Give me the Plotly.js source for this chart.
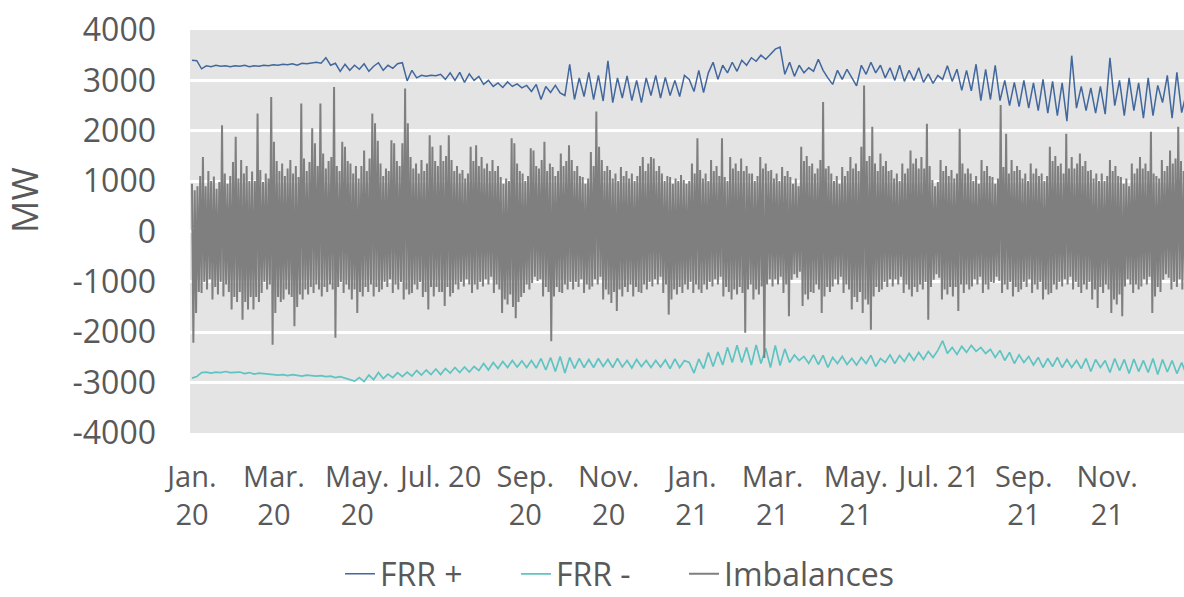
<!DOCTYPE html>
<html>
<head>
<meta charset="utf-8">
<script src="https://cdn.plot.ly/plotly-3.0.1.min.js"></script>
<style>
  html, body { margin: 0; padding: 0; background: #ffffff; }
  #chart { width: 1184px; height: 597px; }
</style>
</head>
<body>
<div id="chart"></div>
<script>
// ---- Data ----
// FRR+ and FRR- : one value every 3.5 days starting 1 Jan 2020 (MW)
const frrUp = [
  3400, 3390, 3230, 3290, 3270, 3300, 3280, 3290, 3270,
  3290, 3280, 3300, 3270, 3290, 3280, 3300, 3290,
  3310, 3300, 3320, 3310, 3330, 3300, 3340, 3330, 3350,
  3360, 3340, 3450, 3300, 3340, 3180, 3320, 3200, 3300,
  3220, 3330, 3180, 3280, 3350, 3200, 3300, 3240, 3330,
  3350, 2990, 3200, 3050, 3100, 3080, 3100, 3090,
  3120, 3020, 3150, 3000, 3160, 2960, 3130, 3000, 3080,
  2920, 3000, 2880, 2950, 2860, 2970, 2880, 2930, 2850,
  2900, 2780, 2920, 2620, 2880, 2760, 2900, 2750,
  2700, 3320, 2620, 3050, 2680, 3160, 2620, 3100, 2590,
  3390, 2560, 3050, 2650, 3090, 2600, 3000, 2560, 3050,
  2700, 3100, 2650, 3060, 2700, 3000, 2680, 3100, 3020,
  2780, 3200, 2760, 3150, 3360, 3020, 3300, 3150, 3360,
  3180, 3400, 3300, 3450, 3380, 3500, 3420, 3520,
  3620, 3660, 3120, 3360, 3080, 3300, 3150, 3250, 3180,
  3420, 3200, 3050, 2920, 3200, 3020, 3220, 3050,
  2890, 3300, 3120, 3360, 3150, 3300, 3050, 3250, 3000,
  3300, 2980, 3200, 3000, 3250, 2960, 3130, 2940, 3100,
  3020, 3290, 2980, 3220, 2800, 3200, 2790, 3320, 2600,
  3220, 2620, 3300, 2600, 3000, 2500, 2960, 2480,
  3000, 2450, 2950, 2400, 3020, 2350, 2980, 2300, 2950,
  2190, 3490, 2450, 2880, 2400, 2850, 2350, 2880, 2330,
  3450, 2500, 3000, 2300, 3050, 2400, 2950, 2250,
  3050, 2300, 2900, 2560, 3100, 2250, 3160, 2360, 2760
];
const frrDown = [
  -2910, -2880, -2800, -2790, -2810, -2790, -2800, -2780, -2800,
  -2800, -2790, -2820, -2800, -2830, -2810, -2820, -2830,
  -2830, -2850, -2840, -2860, -2840, -2850, -2870, -2850, -2860,
  -2870, -2860, -2880, -2870, -2900, -2880, -2910, -2940, -2970,
  -2900, -2980, -2850, -2940, -2800, -2920, -2830, -2900, -2800,
  -2880, -2790, -2870, -2760, -2850, -2750, -2840, -2730,
  -2840, -2720, -2810, -2700, -2800, -2690, -2790, -2680, -2760,
  -2620, -2750, -2600, -2720, -2580, -2700, -2560, -2690, -2570,
  -2700, -2560, -2710, -2520, -2750, -2500, -2780, -2480,
  -2810, -2500, -2720, -2520, -2700, -2540, -2700, -2520, -2680,
  -2540, -2700, -2520, -2690, -2560, -2710, -2540, -2680, -2560,
  -2700, -2560, -2690, -2550, -2720, -2530, -2700, -2560, -2600,
  -2810, -2530, -2720, -2400, -2680, -2390, -2650, -2300, -2600,
  -2260, -2600, -2300, -2650, -2250, -2620, -2320, -2700,
  -2260, -2660, -2330, -2600, -2450, -2560, -2480, -2620, -2450,
  -2640, -2460, -2700, -2500, -2620, -2480, -2640, -2520,
  -2650, -2500, -2620, -2460, -2680, -2520, -2600, -2450, -2620,
  -2460, -2580, -2420, -2560, -2400, -2540, -2380, -2500, -2360,
  -2170, -2420, -2300, -2440, -2280, -2400, -2260, -2380, -2300,
  -2420, -2340, -2500, -2360, -2560, -2400, -2620, -2450,
  -2600, -2480, -2650, -2500, -2700, -2520, -2680, -2500, -2700,
  -2540, -2700, -2560, -2720, -2520, -2780, -2540, -2700, -2560,
  -2800, -2520, -2760, -2540, -2820, -2530, -2780, -2560,
  -2800, -2520, -2840, -2540, -2790, -2560, -2820, -2600, -2850
];
// Imbalances: highest and lowest value of every 2-day block starting 1 Jan 2020 (MW)
const imbHigh = [
  950, 820, 900,
  1100, 1480, 900, 1200,
  1000, 1090, 850, 980,
  2110, 1150, 950,
  1100, 1380, 1880, 1050,
  1420, 1150, 1300, 1000,
  1190, 1000, 2340,
  1220, 980, 1150, 1050,
  2670, 1780, 1400, 1200,
  1350, 1100, 1250,
  1420, 1150, 1300, 1080,
  2540, 1450, 1200, 1380,
  2050, 1750, 1300,
  2540, 1550, 1250, 1400,
  1480, 2870, 1300, 1200,
  1780, 1680, 1400,
  1350, 1150, 1300, 1050,
  1300, 1610, 1200, 1450,
  2340, 2150, 1800,
  1350, 1100, 1250, 1200,
  1810, 1750, 1400, 1300,
  1750, 2840, 2150,
  1480, 1250, 1350, 1150,
  1420, 1200, 1350, 1910,
  1680, 1400, 1300,
  1710, 1400, 1500, 1910,
  1420, 1200, 1300, 1150,
  1220, 1050, 1150,
  1680, 1400, 1710, 1300,
  1480, 1250, 1350, 1200,
  1420, 1200, 1300,
  1080, 950, 1050, 1000,
  1850, 1750, 1350, 1200,
  1150, 1000, 1100,
  1650, 1610, 1300, 1250,
  1420, 1780, 1200, 1350,
  1280, 1100, 1200,
  1550, 1300, 1400, 1710,
  1420, 1200, 1300, 1100,
  1080, 950, 1050,
  1580, 1300, 2380, 1680,
  1420, 1200, 1300,
  1220, 1050, 1150, 1000,
  1280, 1100, 1200, 1050,
  1150, 1000, 1100,
  1300, 1480, 1200, 1350,
  1480, 1450, 1200, 1300,
  1150, 1000, 1100,
  1080, 950, 1050, 1000,
  1120, 1020, 950, 1000,
  1350, 1150, 1850,
  1220, 1050, 1150, 1000,
  1420, 1200, 1300, 1100,
  1850, 1080, 1000,
  1480, 1250, 1350, 1200,
  1450, 1200, 1300, 1150,
  1150, 1000, 1100,
  1480, 1250, 1350, 1200,
  1220, 1050, 1150, 1000,
  1280, 1100, 1200,
  1080, 950, 1050, 900,
  1680, 1400, 1500, 1300,
  1350, 1150, 1250,
  1420, 2570, 1250, 1300,
  1150, 1000, 1100, 950,
  1280, 1100, 1200,
  1480, 1250, 1350, 1200,
  1680, 2900, 1400, 1500,
  2080, 1350, 1200,
  1550, 1300, 1400, 1200,
  1220, 1050, 1150, 1000,
  1350, 1150, 1250,
  1610, 1350, 1450, 1250,
  1480, 1250, 2140, 1300,
  1020, 900, 980,
  1420, 1200, 1300, 1100,
  1220, 1050, 1150, 2040,
  1350, 1150, 1250,
  1150, 1000, 1100, 950,
  1420, 1200, 1300, 1100,
  1080, 950, 1050,
  2510, 1280, 1940, 1150,
  1420, 1200, 1300,
  1220, 1050, 1150, 1000,
  1350, 1150, 1250, 1100,
  1150, 1000, 1100,
  1680, 1400, 1500, 1300,
  1350, 1150, 1940, 1250,
  1480, 1250, 1350,
  1550, 1300, 1400, 1200,
  1220, 1050, 1150, 1000,
  1150, 1000, 1100,
  1420, 1200, 1300, 1100,
  1080, 950, 1050, 900,
  1350, 1150, 1250,
  1480, 1250, 1350, 1200,
  1980, 1150, 1100, 1050,
  1420, 1200, 1300,
  1610, 1350, 1450, 2080,
  1400, 1200, 1300
];
const imbLow = [
  -2210, -1620, -1200,
  -1220, -1000, -1150, -950,
  -1350, -1100, -1250, -1000,
  -1290, -1050, -1200,
  -1550, -1300, -1400, -1200,
  -1750, -1400, -1550, -1300,
  -1550, -1300, -1400,
  -1220, -1000, -1150, -1050,
  -2250, -1620, -1300, -1400,
  -1350, -1150, -1250,
  -1300, -1880, -1500, -1250,
  -1350, -1150, -1250, -1100,
  -1220, -1050, -1150,
  -1290, -1100, -1200, -1050,
  -1150, -2110, -1100, -1000,
  -1220, -1050, -1150,
  -1350, -1150, -1620, -1200,
  -1290, -1100, -1200, -1050,
  -1290, -1100, -1200,
  -1150, -1000, -1100, -950,
  -1220, -1050, -1150, -1000,
  -1350, -1150, -1250,
  -1220, -1050, -1150, -1000,
  -1300, -1200, -1550, -1100,
  -1290, -1100, -1200,
  -1200, -1480, -1100, -1290,
  -1220, -1050, -1150, -1000,
  -1090, -950, -1050,
  -1220, -1050, -1150, -1000,
  -1090, -950, -1050, -900,
  -1220, -1050, -1150,
  -1620, -1350, -1450, -1250,
  -1500, -1720, -1400, -1300,
  -1220, -1050, -1150,
  -1020, -900, -980, -950,
  -1290, -1100, -1200, -2180,
  -1290, -1100, -1200,
  -1220, -1050, -1150, -1000,
  -1150, -1000, -1100, -950,
  -1220, -1050, -1150,
  -1090, -950, -1050, -900,
  -1350, -1150, -1250,
  -1420, -1200, -1580, -1150,
  -1290, -1100, -1200, -1050,
  -1290, -1100, -1200,
  -1220, -1050, -1150, -1000,
  -1090, -950, -1050, -900,
  -1220, -1050, -1650,
  -1350, -1150, -1250, -1100,
  -1220, -1050, -1150, -1000,
  -1220, -1050, -1150,
  -1220, -1050, -1150, -1000,
  -1090, -950, -1050, -900,
  -1290, -1100, -1200,
  -1350, -1150, -1250, -1100,
  -1220, -2010, -1150, -1050,
  -1350, -1150, -1250,
  -1090, -2510, -1050, -950,
  -1090, -950, -1050, -900,
  -1220, -1050, -1680,
  -960, -850, -920, -800,
  -1480, -1250, -1350, -1200,
  -1220, -1050, -1150,
  -1620, -1290, -1100, -1200,
  -1090, -950, -1050, -900,
  -1220, -1050, -1150,
  -1550, -1300, -1400, -1200,
  -1620, -1350, -1450, -1950,
  -1290, -1100, -1200,
  -1150, -1000, -1100, -950,
  -1090, -950, -1050, -900,
  -1220, -1050, -1150,
  -1290, -1100, -1200, -1050,
  -1150, -1000, -1750, -1100,
  -960, -850, -920,
  -1350, -1150, -1250, -1100,
  -1290, -1100, -1580, -1050,
  -1220, -1050, -1150,
  -1090, -950, -1050, -900,
  -1220, -1050, -1150, -1000,
  -1020, -900, -980,
  -1220, -1050, -1150, -1000,
  -1290, -1100, -1200,
  -1150, -1000, -1100, -950,
  -1220, -1050, -1150, -1000,
  -1350, -1150, -1250,
  -1220, -1050, -1150, -1000,
  -1090, -950, -1050, -900,
  -1150, -1000, -1100,
  -1220, -1050, -1150, -1000,
  -1350, -1150, -1520, -1100,
  -1220, -1050, -1150,
  -1620, -1350, -1450, -1250,
  -1680, -1090, -950, -1050,
  -1220, -1050, -1150,
  -1090, -950, -1050, -900,
  -1620, -1290, -1100, -1200,
  -960, -850, -920,
  -1150, -1000, -1100, -950,
  -1150, -1000, -1100
];
// Axis tick dates and labels
const tickDates = ['2020-01-01','2020-03-01','2020-05-01','2020-07-01','2020-09-01','2020-11-01',
                   '2021-01-01','2021-03-01','2021-05-01','2021-07-01','2021-09-01','2021-11-01'];
const tickLabels = ['Jan.<br>20','Mar.<br>20','May.<br>20','Jul. 20','Sep.<br>20','Nov.<br>20',
                    'Jan.<br>21','Mar.<br>21','May.<br>21','Jul. 21','Sep.<br>21','Nov.<br>21'];
const yTickVals = [-4000, -3000, -2000, -1000, 0, 1000, 2000, 3000, 4000];
const yTickText = ['-4000', '-3000', '-2000', '-1000', '0', '1000', '2000', '3000', '4000'];
const seriesNames = ['FRR +', 'FRR -', 'Imbalances'];
const yTitle = 'MW';

// ---- Build traces ----
const START = Date.UTC(2020, 0, 1);
function dayToDate(d) {
  return new Date(START + d * 86400000).toISOString().slice(0, 19).replace('T', ' ');
}
const frrX = frrUp.map((_, i) => dayToDate(i * 3.5));
const frrDownX = frrDown.map((_, i) => dayToDate(i * 3.5));
const imbX = [], imbY = [];
const n = Math.min(imbHigh.length, imbLow.length);
for (let k = 0; k < n; k++) {
  imbX.push(dayToDate(2 * k));     imbY.push(imbHigh[k]);
  imbX.push(dayToDate(2 * k + 1)); imbY.push(imbLow[k]);
}

const textColor = '#595959';
const FONT = '"Open Sans", "Liberation Sans", sans-serif';

const traces = [
  { x: frrX, y: frrUp, name: seriesNames[0], type: 'scatter', mode: 'lines',
    legend: 'legend', line: { color: '#41679d', width: 1.5 } },
  { x: frrDownX, y: frrDown, name: seriesNames[1], type: 'scatter', mode: 'lines',
    legend: 'legend2', line: { color: '#5ec4c2', width: 1.7 } },
  { x: imbX, y: imbY, name: seriesNames[2], type: 'scatter', mode: 'lines',
    legend: 'legend3', line: { color: '#7f7f7f', width: 2 } }
];

function legendAt(px) {
  return {
    orientation: 'h', xref: 'container', yref: 'container',
    x: px / 1184, xanchor: 'left', y: (597 - 574) / 597, yanchor: 'middle',
    font: { size: 32, color: textColor, family: FONT },
    bgcolor: 'rgba(0,0,0,0)', borderwidth: 0
  };
}

const layout = {
  width: 1184, height: 597,
  margin: { l: 190, r: 0, t: 30, b: 164, autoexpand: false },
  paper_bgcolor: '#ffffff',
  plot_bgcolor: '#e4e4e4',
  font: { family: FONT, color: textColor },
  hovermode: false,
  showlegend: true,
  legend: legendAt(340),
  legend2: legendAt(516),
  legend3: legendAt(684),
  xaxis: {
    type: 'date',
    range: ['2019-12-30 13:00', '2021-12-27 05:00'],
    tickmode: 'array', tickvals: tickDates, ticktext: tickLabels,
    tickangle: 0, ticks: '', showgrid: false, zeroline: false, showline: false,
    tickfont: { size: 29, color: textColor, family: FONT },
    ticklabelstandoff: 24
  },
  yaxis: {
    range: [-4000, 4000], tickmode: 'array', tickvals: yTickVals, ticktext: yTickText,
    ticks: '', showline: false, zeroline: false,
    gridcolor: '#ffffff', gridwidth: 3,
    tickfont: { size: 32, color: textColor, family: FONT },
    ticklabelstandoff: 33
  },
  annotations: [{
    text: yTitle, textangle: -90, showarrow: false,
    xref: 'paper', yref: 'paper',
    x: (24 - 190) / 994, y: (433 - 200) / 403,
    xanchor: 'center', yanchor: 'middle',
    font: { size: 36, color: textColor, family: FONT }
  }]
};

Plotly.newPlot('chart', traces, layout, { displayModeBar: false, staticPlot: true });
</script>
</body>
</html>
